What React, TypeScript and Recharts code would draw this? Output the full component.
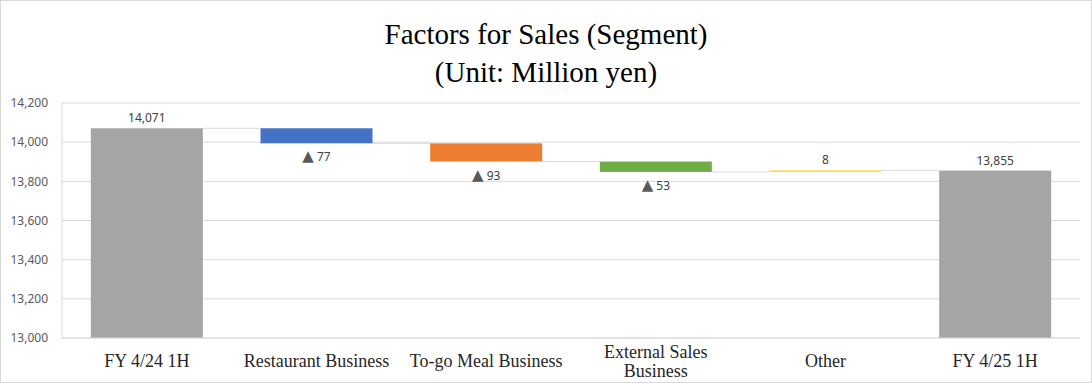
import React from 'react';
import { BarChart, Bar, XAxis, YAxis, CartesianGrid } from 'recharts';

const categories = ['FY 4/24 1H', 'Restaurant Business', 'To-go Meal Business', 'External Sales\nBusiness', 'Other', 'FY 4/25 1H'];
const values = [14071, -77, -93, -53, 8, 13855];
const kinds = ['total', 'delta', 'delta', 'delta', 'delta', 'total'];
const colors = ['#A5A5A5', '#4472C4', '#ED7D31', '#70AD47', '#FFD92E', '#A5A5A5'];
const yTicks = [13000, 13200, 13400, 13600, 13800, 14000, 14200];
const titleLines = ['Factors for Sales (Segment)', '(Unit: Million yen)'];

const GAP = 0.17;

let running = 0;
const data = categories.map((name, i) => {
  const v = values[i];
  let range: number[];
  if (kinds[i] === 'total') {
    range = [yTicks[0], v];
    running = v;
  } else {
    const start = running;
    const end = start + v;
    range = [Math.min(start, end), Math.max(start, end)];
    running = end;
  }
  return { name, range, value: v, kind: kinds[i], color: colors[i], last: i === categories.length - 1 };
});

const fmt = (n: number) => n.toLocaleString('en-US');

function WaterfallShape(props: any) {
  const { x, y, width, height, payload } = props;
  const top = Math.min(y, y + height);
  const bottom = Math.max(y, y + height);
  const h = Math.max(bottom - top, 1.5);
  const decrease = payload.kind === 'delta' && payload.value < 0;
  const levelY = decrease ? bottom : top;
  const gapPx = (width * (2 * GAP)) / (1 - 2 * GAP);
  const cx = x + width / 2;
  let label: React.ReactNode = null;
  const textStyle = { fontFamily: 'Noto Sans, sans-serif', fontSize: 12, fill: '#404040' } as any;
  if (decrease) {
    label = (
      <text x={cx} y={bottom + 18} textAnchor="middle" style={textStyle}>
        <tspan fill="#595959" style={{ fontFamily: 'DejaVu Sans, sans-serif', fontSize: 15 }}>▲</tspan>
        <tspan> {fmt(Math.abs(payload.value))}</tspan>
      </text>
    );
  } else {
    label = (
      <text x={cx} y={top - 6} textAnchor="middle" style={textStyle}>
        {fmt(payload.value)}
      </text>
    );
  }
  return (
    <g>
      {!payload.last && (
        <line x1={x + width} x2={x + width + gapPx} y1={levelY} y2={levelY} stroke="#D9D9D9" strokeWidth={1} />
      )}
      <rect x={x} y={top} width={width} height={h} fill={payload.color} />
      {label}
    </g>
  );
}

function XTick(props: any) {
  const { x, y, payload } = props;
  const lines = String(payload.value).split('\n');
  const base = lines.length === 1 ? y + 21 : y + 12;
  return (
    <text x={x} y={base} textAnchor="middle" style={{ fontFamily: 'Liberation Serif, serif', fontSize: 18, fill: '#262626' }}>
      {lines.map((l, i) => (
        <tspan key={i} x={x} dy={i === 0 ? 0 : 19}>
          {l}
        </tspan>
      ))}
    </text>
  );
}

export default function App() {
  return (
    <div
      style={{
        position: 'fixed',
        left: 0,
        top: 0,
        width: 1092,
        height: 383,
        background: '#fff',
        border: '1px solid #D9D9D9',
        boxSizing: 'border-box',
        overflow: 'hidden',
      }}
    >
      <div
        style={{
          position: 'absolute',
          left: 0,
          top: 14,
          width: 1090,
          textAlign: 'center',
          fontFamily: 'Liberation Serif, serif',
          fontSize: 29,
          lineHeight: '38px',
          color: '#000',
        }}
      >
        {titleLines.map((t, i) => (
          <div key={i}>{t}</div>
        ))}
      </div>
      <div style={{ position: 'absolute', left: -1, top: -1 }}>
        <BarChart width={1092} height={383} data={data} margin={{ top: 103, right: 12, bottom: 5, left: 0 }} barCategoryGap={`${GAP * 100}%`}>
          <CartesianGrid vertical={false} stroke="#D9D9D9" />
          <XAxis
            dataKey="name"
            height={40}
            tickLine={false}
            axisLine={{ stroke: '#D9D9D9' }}
            tick={<XTick />}
            interval={0}
          />
          <YAxis
            width={62}
            domain={[yTicks[0], yTicks[yTicks.length - 1]]}
            ticks={yTicks}
            allowDataOverflow
            tickLine={false}
            tickSize={6}
            tickMargin={8}
            axisLine={{ stroke: '#D9D9D9' }}
            tick={{ fill: '#595959', fontSize: 12, fontFamily: 'Noto Sans, sans-serif' }}
            tickFormatter={fmt}
          />
          <Bar dataKey="range" shape={<WaterfallShape />} isAnimationActive={false} />
        </BarChart>
      </div>
    </div>
  );
}
